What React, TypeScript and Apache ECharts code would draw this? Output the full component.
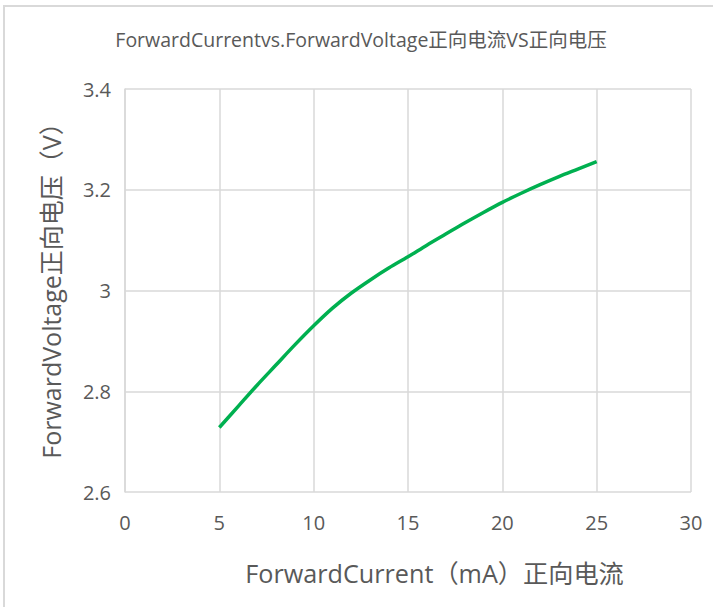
import React, { useEffect, useRef } from "react";
import * as echarts from "echarts";

const currents = [5, 6, 7, 8, 9, 10, 11, 12, 13, 14, 15, 16, 17, 18, 19, 20, 21, 22, 23, 24, 25];
const voltages = [
  2.728, 2.770, 2.812, 2.852, 2.892, 2.930, 2.965, 2.995, 3.021, 3.045, 3.067,
  3.090, 3.112, 3.134, 3.155, 3.175, 3.193, 3.210, 3.226, 3.241, 3.256,
];
const xTicks = [0, 5, 10, 15, 20, 25, 30];
const yTicks = [2.6, 2.8, 3.0, 3.2, 3.4];

const titleText = "ForwardCurrentvs.ForwardVoltage正向电流VS正向电压";
const xName = "ForwardCurrent（mA）正向电流";
const yName = "ForwardVoltage正向电压（V）";

export default function App() {
  const ref = useRef<HTMLDivElement>(null);
  useEffect(() => {
    const chart = echarts.init(ref.current!, null, { renderer: "svg" });
    const font = "'Open Sans', 'Noto Sans CJK SC', sans-serif";
    chart.setOption({
      animation: false,
      backgroundColor: "#ffffff",
      textStyle: { fontFamily: font },
      title: {
        text: titleText,
        left: 356,
        textAlign: "center",
        top: 25,
        textStyle: { fontSize: 19.5, fontWeight: "normal", color: "#595959", fontFamily: font },
      },
      graphic: [
        {
          type: "polyline",
          shape: { points: [[4, 607], [4, 6], [713, 6]] },
          style: { stroke: "#d9d9d9", lineWidth: 2, fill: "none" },
          silent: true,
        },
      ],
      grid: { left: 125, right: 22, top: 89, bottom: 115, containLabel: false },
      xAxis: {
        type: "value",
        min: xTicks[0],
        max: xTicks[xTicks.length - 1],
        interval: 5,
        name: xName,
        nameLocation: "middle",
        nameGap: 68,
        nameTextStyle: { fontSize: 25.2, color: "#595959", padding: [0, 0, 0, 53] },
        axisLine: { show: false },
        axisTick: { show: false },
        axisLabel: { fontSize: 20, color: "#595959", margin: 20 },
        splitLine: { show: true, lineStyle: { color: "#d9d9d9", width: 1.5 } },
      },
      yAxis: {
        type: "value",
        min: yTicks[0],
        max: yTicks[yTicks.length - 1],
        interval: 0.2,
        name: yName,
        nameLocation: "middle",
        nameGap: 62,
        nameRotate: 90,
        nameTextStyle: { fontSize: 25, color: "#595959", padding: [0, 0, 0, 12] },
        axisLine: { show: true, lineStyle: { color: "#d9d9d9", width: 1.5 } },
        axisTick: { show: false },
        axisLabel: {
          fontSize: 20,
          color: "#595959",
          margin: 14,
          formatter: (v: number) => String(Math.round(v * 10) / 10),
        },
        splitLine: { show: true, lineStyle: { color: "#d9d9d9", width: 1.5 } },
      },
      series: [
        {
          type: "line",
          data: currents.map((c, i) => [c, voltages[i]]),
          smooth: 0.3,
          showSymbol: false,
          lineStyle: { color: "#00b050", width: 3.5 },
        },
      ],
    });
    return () => chart.dispose();
  }, []);
  return (
    <div
      ref={ref}
      style={{ position: "fixed", left: 0, top: 0, width: 713, height: 607 }}
    />
  );
}
